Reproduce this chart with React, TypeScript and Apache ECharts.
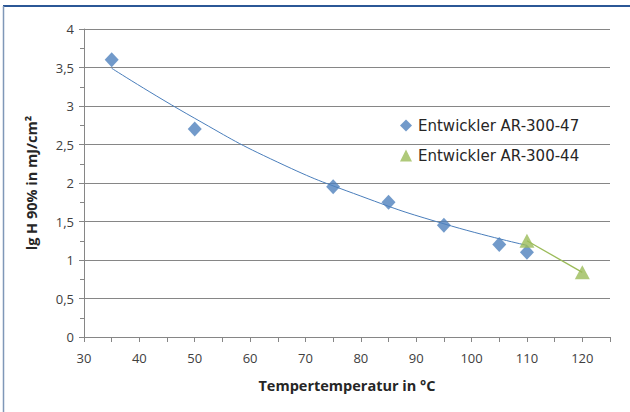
import React, { useEffect, useRef } from "react";
import * as echarts from "echarts";

// Entwickler AR-300-47 (diamonds)
const temps47 = [35, 50, 75, 85, 95, 105, 110];
const values47 = [3.6, 2.7, 1.95, 1.75, 1.45, 1.2, 1.1];
// Entwickler AR-300-44 (triangles)
const temps44 = [110, 120];
const values44 = [1.25, 0.84];
// Trend line of AR-300-47
const trendX = [35, 50, 65, 80, 95, 110];
const trendY = [3.49, 2.84, 2.27, 1.83, 1.47, 1.19];

const seriesNames = ["Entwickler AR-300-47", "Entwickler AR-300-44"];
const xTitle = "Tempertemperatur in °C";
const yTitle = "lg H 90% in mJ/cm²";

const pairs = (xs: number[], ys: number[]) => xs.map((x, i) => [x, ys[i]]);

export default function App() {
  const ref = useRef<HTMLDivElement>(null);
  useEffect(() => {
    if (!ref.current) return;
    const chart = echarts.init(ref.current, null, { renderer: "svg" });
    const labelFont = "'Open Sans', 'Liberation Sans', sans-serif";
    chart.setOption({
      animation: false,
      backgroundColor: "#ffffff",
      grid: { left: 84, right: 20, top: 29, bottom: 75, containLabel: false },
      legend: {
        orient: "vertical",
        left: 395,
        top: 113,
        itemGap: 15,
        itemWidth: 12,
        itemHeight: 12,
        textStyle: { fontFamily: "'DejaVu Sans', sans-serif", fontSize: 15, color: "#262626", padding: [0, 0, 0, 1] },
        data: [
          { name: seriesNames[0], icon: "diamond" },
          { name: seriesNames[1], icon: "triangle" },
        ],
      },
      xAxis: {
        type: "value",
        min: 30,
        max: 125,
        interval: 5,
        name: xTitle,
        nameLocation: "middle",
        nameGap: 41,
        nameTextStyle: { fontFamily: labelFont, fontWeight: "bold", fontSize: 14.5, color: "#262626" },
        axisLine: { show: true, lineStyle: { color: "#868686", width: 1 } },
        axisTick: { show: true, length: 5, lineStyle: { color: "#868686" } },
        axisLabel: {
          margin: 14,
          fontFamily: labelFont,
          fontSize: 13,
          color: "#404040",
          formatter: (v: number) => (v % 10 === 0 ? String(v) : ""),
        },
        splitLine: { show: false },
      },
      yAxis: {
        type: "value",
        min: 0,
        max: 4,
        interval: 0.5,
        name: yTitle,
        nameLocation: "middle",
        nameGap: 45,
        nameRotate: 90,
        nameTextStyle: { fontFamily: labelFont, fontWeight: "bold", fontSize: 14.5, color: "#262626" },
        axisLine: { show: true, lineStyle: { color: "#868686", width: 1 } },
        axisTick: { show: true, length: 5, lineStyle: { color: "#868686" } },
        minorTick: { show: true, splitNumber: 2, length: 4, lineStyle: { color: "#868686" } },
        axisLabel: {
          margin: 10,
          fontFamily: labelFont,
          fontSize: 13,
          color: "#404040",
          formatter: (v: number) => String(v).replace(".", ","),
        },
        splitLine: { show: true, lineStyle: { color: "#868686", width: 1 } },
      },
      series: [
        {
          name: "trend47",
          type: "line",
          data: pairs(trendX, trendY),
          smooth: true,
          showSymbol: false,
          symbol: "none",
          lineStyle: { color: "#4a7ebb", width: 1 },
          z: 2,
        },
        {
          name: "trend44",
          type: "line",
          data: pairs(temps44, values44),
          showSymbol: false,
          symbol: "none",
          lineStyle: { color: "#9bbb59", width: 1.3 },
          z: 2,
        },
        {
          name: seriesNames[0],
          type: "scatter",
          symbol: "diamond",
          symbolSize: [14, 15],
          data: pairs(temps47, values47),
          itemStyle: { color: "#4f81bd" },
          z: 3,
        },
        {
          name: seriesNames[1],
          type: "scatter",
          symbol: "triangle",
          symbolSize: [15, 14],
          data: pairs(temps44, values44),
          itemStyle: { color: "#9bbb59" },
          z: 4,
        },
      ],
      graphic: [
        { type: "line", shape: { x1: 3, y1: 6, x2: 630, y2: 6 }, style: { stroke: "#2b5796", lineWidth: 2 } },
        { type: "line", shape: { x1: 3.5, y1: 6, x2: 3.5, y2: 412 }, style: { stroke: "#7f97b8", lineWidth: 1.5 } },
      ],
    });
    return () => chart.dispose();
  }, []);
  return <div ref={ref} style={{ position: "fixed", left: 0, top: 0, width: 630, height: 412 }} />;
}
